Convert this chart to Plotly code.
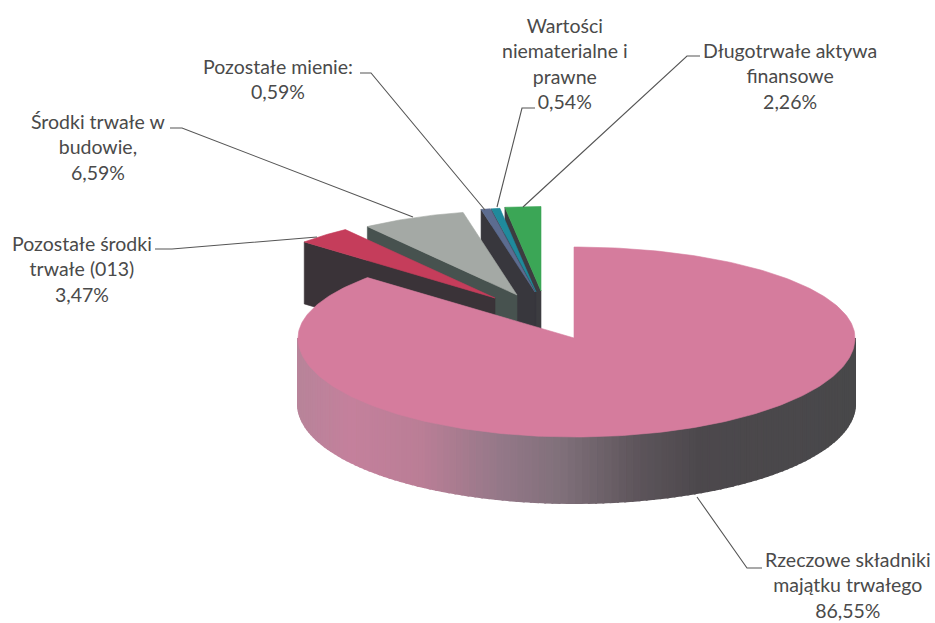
import numpy as np
import plotly.graph_objects as go

# --- data ---
names = ["Rzeczowe składniki<br>majątku trwałego", "Pozostałe środki<br>trwałe (013)",
         "Środki trwałe w<br>budowie,", "Pozostałe mienie:", "Wartości<br>niematerialne i<br>prawne",
         "Długotrwałe aktywa<br>finansowe"]
values = [86.55, 3.47, 6.59, 0.59, 0.54, 2.26]
value_labels = ["86,55%", "3,47%", "6,59%", "0,59%", "0,54%", "2,26%"]

# --- style / layout ---
top_colors = ["#d57c9d", "#c53d5b", "#a4a9a5", "#5c6c90", "#1f8a9c", "#3ba656"]
wall_colors = ["#000000", "#3a3338", "#47524f", "#38373d", "#38373d", "#3c3c40"]
CX, CY = 574, 338           # centre of the unexploded pie
RX_LEFT, RX_RIGHT, RY_BACK, RY_FRONT = 276, 281, 91, 99
DEPTH = 66
EXPLODED_RX, EXPLODED_RY, EXPLODED_DEPTH = 255, 84.5, 62
explode_offset = {1: (-79, -40), 2: (-57, -43), 3: (-39, -46), 4: (-38, -46), 5: (-33, -47)}
label_pos = [(848, 585), (82, 269), (98, 147), (278, 79), (565, 63), (790, 76)]
leaders = [
    "M697,497 L747,568 L762,568", "M155,249 L172,249 L317,237", "M170,128 L182,128 L413,217",
    "M360,73 L371,73 L485,210", "M535,108 L522,108 L497,207", "M700,56 L687,56 L523,207",
]

edges = np.concatenate([[0], np.cumsum(values)]) / sum(values) * 2 * np.pi


def arc(t0, t1, cx, cy, rx_left, rx_right, ry_back, ry_front, n=160):
    t = np.linspace(t0, t1, n)
    s, c = np.sin(t), np.cos(t)
    return cx + np.where(s > 0, rx_right, rx_left) * s, cy - np.where(c > 0, ry_back, ry_front) * c


def poly(x, y, color, width=0.6):
    return go.Scatter(x=np.r_[x, x[0]], y=np.r_[y, y[0]], mode="lines", fill="toself", fillcolor=color,
                      line=dict(color=color, width=width), hoverinfo="skip", showlegend=False)


def mix(stops, u):
    xs = [s[0] for s in stops]
    r = np.interp(u, xs, [s[1][0] for s in stops])
    g = np.interp(u, xs, [s[1][1] for s in stops])
    b = np.interp(u, xs, [s[1][2] for s in stops])
    return f"rgb({r:.0f},{g:.0f},{b:.0f})"


traces = []
# exploded slices, right to left so that each covers its neighbour's wall
for i in [5, 4, 3, 2, 1]:
    dx, dy = explode_offset[i]
    tipx, tipy = CX + dx, CY + dy
    ax, ay = arc(edges[i], edges[i + 1], tipx, tipy, EXPLODED_RX, EXPLODED_RX, EXPLODED_RY, EXPLODED_RY, 30)
    wx = np.array([tipx, ax[0], ax[0], tipx])
    wy = np.array([tipy, ay[0], ay[0] + EXPLODED_DEPTH, tipy + EXPLODED_DEPTH])
    traces.append(poly(wx, wy, wall_colors[i]))
    traces.append(poly(np.r_[tipx, ax], np.r_[tipy, ay], top_colors[i]))

# main slice side wall: gradient built from thin quads along the front half
wall_stops = [(298, (184, 132, 154)), (350, (196, 128, 156)), (420, (186, 126, 150)), (500, (148, 120, 136)),
              (560, (128, 112, 122)), (640, (92, 84, 90)), (700, (76, 72, 76)), (860, (72, 72, 74))]
grid = np.linspace(np.pi / 2, 3 * np.pi / 2, 121)
for a, b in zip(grid[:-1], grid[1:]):
    x, y = arc(a, b, CX, CY, RX_LEFT, RX_RIGHT, RY_BACK, RY_FRONT, 4)
    qx = np.r_[x, x[::-1]]
    qy = np.r_[y, y[::-1] + DEPTH]
    traces.append(poly(qx, qy, mix(wall_stops, x.mean()), width=2))

# main slice top
ax, ay = arc(edges[0], edges[1], CX, CY, RX_LEFT, RX_RIGHT, RY_BACK, RY_FRONT, 300)
traces.append(poly(np.r_[CX, ax], np.r_[CY, ay], top_colors[0]))

fig = go.Figure(traces)

for name, val, (lx, ly) in zip(names, value_labels, label_pos):
    fig.add_annotation(x=lx, y=ly, xref="x", yref="y", text=f"{name}<br>{val}", showarrow=False,
                       align="center", xanchor="center", yanchor="middle",
                       font=dict(family="Lato", size=19.5, color="#4a4a4a"))

for path in leaders:
    fig.add_shape(type="path", path=path, xref="x", yref="y", line=dict(color="#555555", width=1.1))

fig.update_layout(width=935, height=623, margin=dict(l=0, r=0, t=0, b=0), paper_bgcolor="white",
                  plot_bgcolor="white", showlegend=False,
                  xaxis=dict(range=[0, 935], visible=False, fixedrange=True),
                  yaxis=dict(range=[623, 0], visible=False, fixedrange=True))
fig.write_html("out.html", config={"displayModeBar": False}, post_script="document.body.style.margin='0';")
